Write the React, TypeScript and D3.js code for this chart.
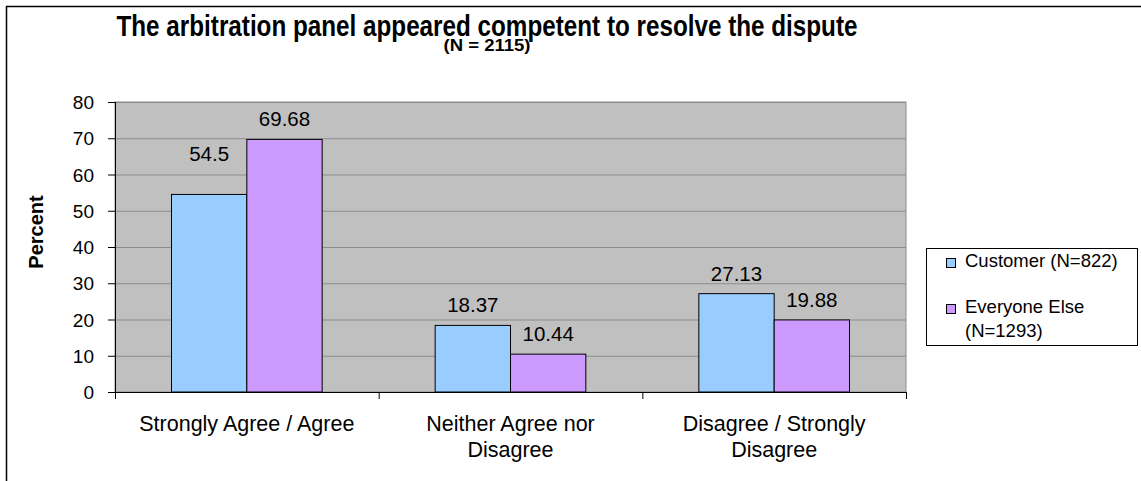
import React from "react";
import * as d3 from "d3";

const categories: string[][] = [
  ["Strongly Agree / Agree"],
  ["Neither Agree nor", "Disagree"],
  ["Disagree / Strongly", "Disagree"],
];
const seriesNames: string[][] = [["Customer (N=822)"], ["Everyone Else", "(N=1293)"]];
const customer = [54.5, 18.37, 27.13];
const everyoneElse = [69.68, 10.44, 19.88];
const yTicks = [0, 10, 20, 30, 40, 50, 60, 70, 80];
const title = "The arbitration panel appeared competent to resolve the dispute";
const subtitle = "(N = 2115)";
const yTitle = "Percent";

const COLORS = ["#99CCFF", "#CC99FF"];
const FONT = "'Liberation Sans', Arial, sans-serif";
const PLOT = { left: 115, right: 906, top: 102, bottom: 392 };

export default function App() {
  const series = [customer, everyoneElse];
  const x = d3
    .scaleBand<number>()
    .domain(d3.range(categories.length))
    .range([PLOT.left, PLOT.right])
    .paddingInner(0)
    .paddingOuter(0);
  // Excel gap width 150%: bar width = band / (2 + 1.5)
  const barW = x.bandwidth() / 3.5;
  const groupOffset = (x.bandwidth() - 2 * barW) / 2;
  const y = d3.scaleLinear().domain([0, 80]).range([PLOT.bottom, PLOT.top]);

  const labelExtraLift = (s: number, c: number) => (s === 0 && c === 0 ? 20 : 0);

  return (
    <svg width={1141} height={481} style={{ display: "block", position: "absolute", left: 0, top: 0 }}>
      <rect x={0} y={0} width={1141} height={481} fill="#fff" />
      <rect x={6.5} y={6.5} width={1200} height={600} fill="none" stroke="#000" strokeWidth={1.5} />
      {/* title */}
      <text
        x={487}
        y={36}
        textAnchor="middle"
        fontFamily={FONT}
        fontWeight="bold"
        fontSize={29}
        textLength={741}
        lengthAdjust="spacingAndGlyphs"
      >
        {title}
      </text>
      <text
        x={487}
        y={51}
        textAnchor="middle"
        fontFamily={FONT}
        fontWeight="bold"
        fontSize={17}
        textLength={87}
        lengthAdjust="spacingAndGlyphs"
      >
        {subtitle}
      </text>
      {/* plot area */}
      <rect
        x={PLOT.left}
        y={PLOT.top}
        width={PLOT.right - PLOT.left}
        height={PLOT.bottom - PLOT.top}
        fill="#C0C0C0"
        stroke="#8c8c8c"
        strokeWidth={1}
      />
      {yTicks.map((t) => (
        <g key={t}>
          {t > 0 && (
            <line x1={PLOT.left} x2={PLOT.right} y1={y(t) + 0.5} y2={y(t) + 0.5} stroke="#8c8c8c" strokeWidth={1} />
          )}
          <line x1={PLOT.left - 7} x2={PLOT.left} y1={y(t) + 0.5} y2={y(t) + 0.5} stroke="#000" strokeWidth={1} />
          <text x={94} y={y(t) + 7} textAnchor="end" fontFamily={FONT} fontSize={19} fill="#000">
            {t}
          </text>
        </g>
      ))}
      {/* bars */}
      {series.map((vals, s) =>
        vals.map((v, c) => {
          const bx = (x(c) as number) + groupOffset + s * barW;
          return (
            <g key={`${s}-${c}`}>
              <rect x={bx} y={y(v)} width={barW} height={y(0) - y(v)} fill={COLORS[s]} stroke="#000" strokeWidth={1} />
              <text
                x={bx + barW / 2}
                y={y(v) - 13 - labelExtraLift(s, c)}
                textAnchor="middle"
                fontFamily={FONT}
                fontSize={20.5}
                fill="#000"
              >
                {v}
              </text>
            </g>
          );
        })
      )}
      {/* axes */}
      <line x1={PLOT.left + 0.5} x2={PLOT.left + 0.5} y1={PLOT.top} y2={PLOT.bottom} stroke="#000" strokeWidth={1} />
      <line x1={PLOT.left} x2={PLOT.right} y1={PLOT.bottom + 0.5} y2={PLOT.bottom + 0.5} stroke="#000" strokeWidth={1.2} />
      {d3.range(categories.length + 1).map((i) => {
        const tx = PLOT.left + i * x.bandwidth();
        return <line key={i} x1={tx + 0.5} x2={tx + 0.5} y1={PLOT.bottom} y2={PLOT.bottom + 7} stroke="#000" strokeWidth={1} />;
      })}
      {categories.map((lines, c) => (
        <text key={c} textAnchor="middle" fontFamily={FONT} fontSize={21.5} fill="#000">
          {lines.map((ln, i) => (
            <tspan key={i} x={(x(c) as number) + x.bandwidth() / 2} y={431 + i * 26}>
              {ln}
            </tspan>
          ))}
        </text>
      ))}
      {/* y title */}
      <text
        transform={`translate(43,232) rotate(-90)`}
        textAnchor="middle"
        fontFamily={FONT}
        fontWeight="bold"
        fontSize={20}
        fill="#000"
      >
        {yTitle}
      </text>
      {/* legend */}
      <rect x={926.5} y={248.5} width={211} height={97} fill="#fff" stroke="#000" strokeWidth={1} />
      {seriesNames.map((lines, s) => {
        const baseY = s === 0 ? 267 : 313;
        return (
          <g key={s}>
            <rect x={946.5} y={baseY - 8.5} width={9} height={9} fill={COLORS[s]} stroke="#000" strokeWidth={1} />
            <text fontFamily={FONT} fontSize={18.5} fill="#000">
              {lines.map((ln, i) => (
                <tspan key={i} x={965} y={baseY + i * 24}>
                  {ln}
                </tspan>
              ))}
            </text>
          </g>
        );
      })}
    </svg>
  );
}
